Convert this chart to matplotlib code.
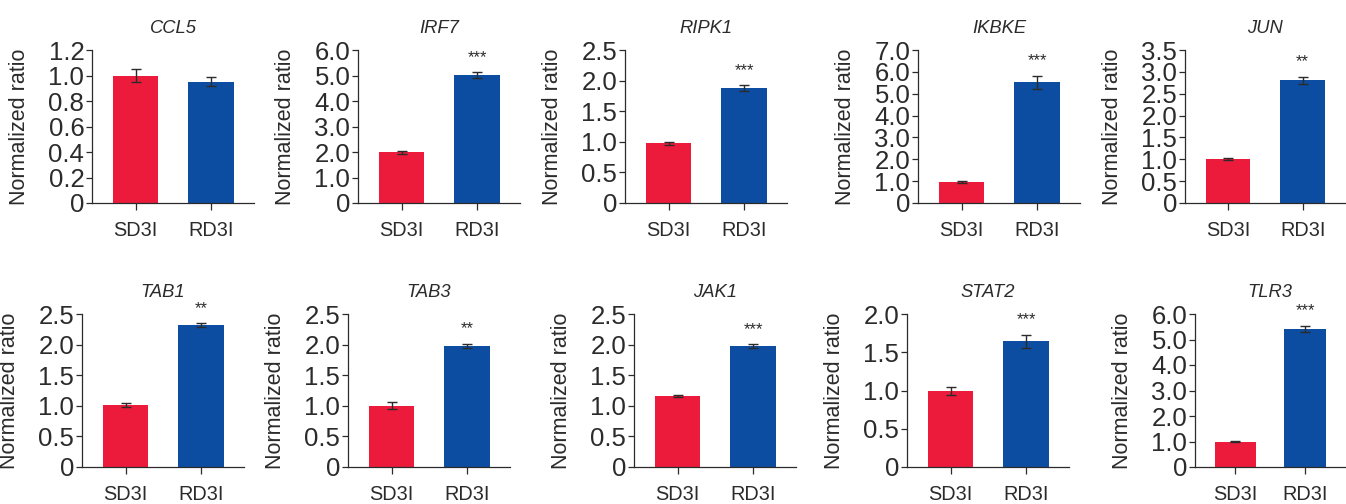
import numpy as np
import matplotlib
matplotlib.use("Agg")
import matplotlib.pyplot as plt
from matplotlib.ticker import FuncFormatter

plt.rcParams['font.family'] = ['Liberation Sans', 'DejaVu Sans']

# data
genes = ['CCL5', 'IRF7', 'RIPK1', 'IKBKE', 'JUN',
         'TAB1', 'TAB3', 'JAK1', 'STAT2', 'TLR3']
groups = ['SD3I', 'RD3I']
sd3i_mean = [1.00, 1.99, 0.975, 0.96, 1.01, 1.01, 1.00, 1.16, 0.99, 1.00]
sd3i_err = [0.052, 0.05, 0.02, 0.03, 0.02, 0.03, 0.055, 0.01, 0.05, 0.015]
rd3i_mean = [0.95, 5.01, 1.875, 5.53, 2.81, 2.315, 1.975, 1.975, 1.645, 5.41]
rd3i_err = [0.036, 0.12, 0.045, 0.30, 0.08, 0.03, 0.035, 0.03, 0.085, 0.12]
stars = ['', '***', '***', '***', '**', '**', '**', '***', '***', '***']
y_max = [1.2, 6.0, 2.5, 7.0, 3.5, 2.5, 2.5, 2.5, 2.0, 6.0]
y_step = [0.2, 1.0, 0.5, 1.0, 0.5, 0.5, 0.5, 0.5, 0.5, 1.0]

red = '#ED1B3B'
blue = '#0D4DA1'
dark = '#2b2b2b'

W, H = 1346, 504
fig = plt.figure(figsize=(W / 100, H / 100), dpi=100)

# axes placement in pixels (left, top, bottom)
lefts = [92, 358, 625, 918, 1185, 82, 348, 634, 907, 1195]
tops = [50] * 5 + [314] * 5
bottoms = [203] * 5 + [467] * 5
aw = 162

fmt = FuncFormatter(lambda v, p: '0' if abs(v) < 1e-9 else '%.1f' % v)

for i, g in enumerate(genes):
    w = min(aw, W - lefts[i] - 1)
    ax = fig.add_axes([lefts[i] / W, 1 - bottoms[i] / H, w / W,
                       (bottoms[i] - tops[i]) / H])
    x = np.arange(2)
    means = [sd3i_mean[i], rd3i_mean[i]]
    errs = [sd3i_err[i], rd3i_err[i]]
    ax.bar(x, means, width=0.6, color=[red, blue], zorder=2)
    ax.errorbar(x, means, yerr=errs, fmt='none', ecolor=dark,
                elinewidth=1.0, capsize=3.5, capthick=1.0, zorder=3)
    if stars[i]:
        ax.annotate(stars[i], xy=(1, means[1] + errs[1]), xytext=(0, 7.5),
                    textcoords='offset points', ha='center', va='baseline',
                    fontsize=12, color=dark)
    ax.set_xlim(-0.58, 1.57)
    ax.set_ylim(0, y_max[i])
    ax.set_yticks(np.arange(0, y_max[i] + y_step[i] / 2, y_step[i]))
    ax.yaxis.set_major_formatter(fmt)
    ax.set_xticks(x)
    ax.set_xticklabels(groups)
    for s in ['top', 'right']:
        ax.spines[s].set_visible(False)
    for s in ['left', 'bottom']:
        ax.spines[s].set_color(dark)
        ax.spines[s].set_linewidth(0.9)
    ax.tick_params(axis='y', length=4, width=0.9, pad=1.5, labelsize=18.5,
                   colors=dark)
    ax.tick_params(axis='x', length=5, width=0.9, pad=8, labelsize=14.3,
                   colors=dark)
    ax.set_ylabel('Normalized ratio', fontsize=15.5, color=dark, labelpad=13)
    ax.set_title(g, fontsize=13.2, style='italic', color=dark, pad=12)

fig.savefig('out.png', dpi=100)
